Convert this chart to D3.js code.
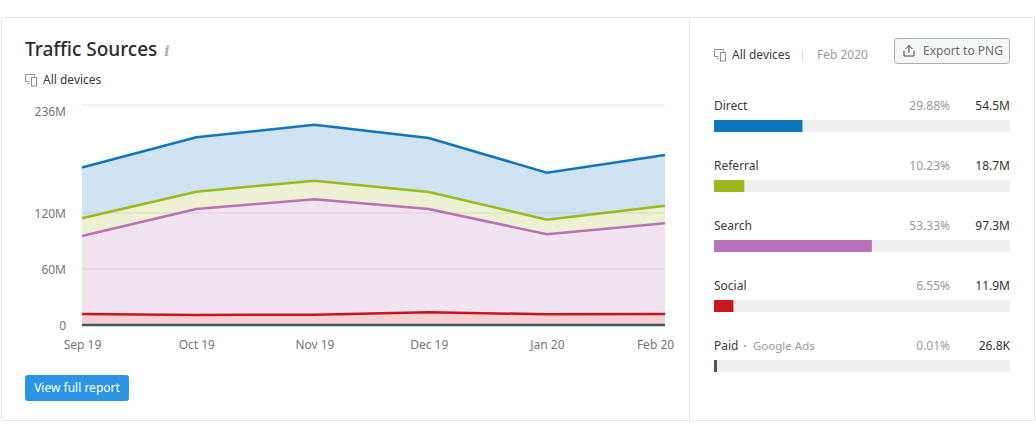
<!DOCTYPE html>
<html>
<head>
<meta charset="utf-8">
<script src="https://cdn.jsdelivr.net/npm/d3@7"></script>
<style>
	html, body { margin: 0; padding: 0; background: #fff; }
	svg { display: block; }
	text { font-family: "Noto Sans", sans-serif; font-size: 12px; }
	.axis path, .axis line { display: none; }
	.axis text { fill: #757575; font-size: 12px; }
</style>
</head>
<body>
<div id="chart"></div>
<script>
'use strict';

/**
 * Data, in millions
 */
var months = ['2019-09-01', '2019-10-01', '2019-11-01', '2019-12-01', '2020-01-01', '2020-02-01'];
var monthLabels = ['Sep 19', 'Oct 19', 'Nov 19', 'Dec 19', 'Jan 20', 'Feb 20'];
var yTicks = [0, 60, 120, 236];
var yTickLabels = ['0', '60M', '120M', '236M'];

var paid = [0.03, 0.03, 0.03, 0.03, 0.03, 0.03];
var social = [11.8, 10.7, 11, 13.6, 11.5, 11.9];
var search = [83.7, 113.8, 123.9, 110.9, 85.8, 97.3];
var referral = [19, 18.5, 19.9, 18.2, 15.7, 18.7];
var direct = [54.5, 58.3, 60, 57.9, 50.4, 54.5];

var sourceNames = ['Direct', 'Referral', 'Search', 'Social', 'Paid'];
var sourceColors = ['#0e75bf', '#9cb81c', '#b872b5', '#c8161e', '#45575e'];
var sourceShares = [29.88, 10.23, 53.33, 6.55, 0.01];
var sourceShareLabels = ['29.88%', '10.23%', '53.33%', '6.55%', '0.01%'];
var sourceValueLabels = ['54.5M', '18.7M', '97.3M', '11.9M', '26.8K'];

var seriesByName = { Direct: direct, Referral: referral, Search: search, Social: social, Paid: paid };

var svg = d3.select('#chart')
	.append('svg')
		.attr('width', 1036)
		.attr('height', 442);

// Card and divider
svg.append('rect')
	.attr('x', 1.5).attr('y', 17.5)
	.attr('width', 1033).attr('height', 403)
	.attr('rx', 2)
	.attr('fill', '#fff')
	.attr('stroke', '#e0e5e8');

svg.append('line')
	.attr('x1', 689.5).attr('x2', 689.5)
	.attr('y1', 18).attr('y2', 420)
	.attr('stroke', '#e0e5e8');

function deviceIcon(x, y) {
	var g = svg.append('g')
		.attr('transform', 'translate(' + x + ',' + y + ')')
		.attr('fill', 'none')
		.attr('stroke', '#8a8f92');
	g.append('path').attr('d', 'M4.5 7.5H0.5V0.5H9.5V2.5M2.5 9.5H4.5');
	g.append('rect').attr('x', 6.5).attr('y', 3.5).attr('width', 5).attr('height', 8.5);
}

/**
 * Header
 */
svg.append('text')
	.attr('x', 25).attr('y', 56)
	.attr('fill', '#2a2a2a')
	.style('font-size', '19px')
	.style('font-weight', 500)
	.text('Traffic Sources');

svg.append('text')
	.attr('x', 164).attr('y', 56)
	.attr('fill', '#a9b6bd')
	.style('font-family', '"DejaVu Serif", serif')
	.style('font-size', '15px')
	.style('font-style', 'italic')
	.style('font-weight', 700)
	.text('i');

deviceIcon(25, 74);

svg.append('text')
	.attr('x', 43).attr('y', 84)
	.attr('fill', '#3a3a3a')
	.text('All devices');

/**
 * Stacked area chart
 */
var dates = months.map(function(d) { return new Date(d + 'T00:00:00'); });

var x = d3.scaleTime()
	.domain(d3.extent(dates))
	.range([82, 665]);

var y = d3.scaleLinear()
	.domain([0, 236])
	.range([325, 105]);

svg.append('g')
	.selectAll('line')
	.data(yTicks.slice(1))
	.enter()
	.append('line')
		.attr('x1', 82).attr('x2', 665)
		.attr('y1', function(d) { return Math.round(y(d)); })
		.attr('y2', function(d) { return Math.round(y(d)); })
		.attr('stroke', '#eeeeee')
		.attr('stroke-width', 1.5);

var stackOrder = ['Paid', 'Social', 'Search', 'Referral', 'Direct'];

var rows = dates.map(function(d, i) {
	var row = { date: d };
	stackOrder.forEach(function(name) { row[name] = seriesByName[name][i]; });
	return row;
});

var layers = d3.stack().keys(stackOrder)(rows);

var area = d3.area()
	.x(function(d) { return x(d.data.date); })
	.y0(function(d) { return y(d[0]); })
	.y1(function(d) { return y(d[1]); });

var line = d3.line()
	.x(function(d) { return x(d.data.date); })
	.y(function(d) { return y(d[1]); });

function colorOf(name) {
	return sourceColors[sourceNames.indexOf(name)];
}

svg.append('g')
	.selectAll('path')
	.data(layers)
	.enter()
	.append('path')
		.attr('d', area)
		.attr('fill', function(d) { return colorOf(d.key); })
		.attr('fill-opacity', 0.2);

svg.append('g')
	.selectAll('path')
	.data(layers)
	.enter()
	.append('path')
		.attr('d', line)
		.attr('fill', 'none')
		.attr('stroke', function(d) { return colorOf(d.key); })
		.attr('stroke-width', 2.5);

var xAxis = svg.append('g')
	.attr('class', 'axis')
	.attr('transform', 'translate(0,325)')
	.call(d3.axisBottom(x)
		.tickValues(dates)
		.tickSize(0)
		.tickPadding(15)
		.tickFormat(function(d, i) { return monthLabels[i]; }));

// The last label is pulled back inside the card
xAxis.selectAll('.tick:last-of-type text').attr('dx', '-10');

svg.append('g')
	.attr('class', 'axis')
	.attr('transform', 'translate(66,0)')
	.call(d3.axisLeft(y)
		.tickValues(yTicks)
		.tickSize(0)
		.tickPadding(0)
		.tickFormat(function(d, i) { return yTickLabels[i]; }))
	.selectAll('text')
		.attr('dy', function(d) { return d === 236 ? '0.85em' : d === 0 ? '0.36em' : '0.4em'; });

/**
 * View full report button
 */
svg.append('rect')
	.attr('x', 25).attr('y', 375)
	.attr('width', 104).attr('height', 26)
	.attr('rx', 3)
	.attr('fill', '#2b95e3');

svg.append('text')
	.attr('x', 77).attr('y', 392)
	.attr('text-anchor', 'middle')
	.attr('fill', '#fff')
	.text('View full report');

/**
 * Right panel header
 */
deviceIcon(714, 49);

svg.append('text')
	.attr('x', 732).attr('y', 59)
	.attr('fill', '#3a3a3a')
	.text('All devices');

svg.append('line')
	.attr('x1', 802.5).attr('x2', 802.5)
	.attr('y1', 50).attr('y2', 61)
	.attr('stroke', '#f0d5d2');

svg.append('text')
	.attr('x', 817).attr('y', 59)
	.attr('fill', '#9a9a9a')
	.text('Feb 2020');

svg.append('rect')
	.attr('x', 894.5).attr('y', 38.5)
	.attr('width', 115).attr('height', 25)
	.attr('rx', 3)
	.attr('fill', '#f5f7f7')
	.attr('stroke', '#a9b0b3');

svg.append('path')
	.attr('d', 'M909 53V45.5M905.5 49L909 45.5L912.5 49M904 50.5V56H914V50.5')
	.attr('fill', 'none')
	.attr('stroke', '#444');

svg.append('text')
	.attr('x', 923).attr('y', 55)
	.attr('fill', '#6a6a6a')
	.text('Export to PNG');

/**
 * Source breakdown bars
 */
var share = d3.scaleLinear()
	.domain([0, 100])
	.range([0, 296]);

var rowY = d3.scalePoint()
	.domain(sourceNames)
	.range([120, 360]);

var bars = svg.append('g')
	.selectAll('g')
	.data(sourceNames)
	.enter()
	.append('g')
		.attr('transform', function(d) { return 'translate(0,' + rowY(d) + ')'; });

bars.append('rect')
	.attr('x', 714)
	.attr('width', share(100))
	.attr('height', 12)
	.attr('fill', '#efefef');

bars.append('rect')
	.attr('x', 714)
	.attr('width', function(d, i) { return Math.max(3, share(sourceShares[i])); })
	.attr('height', 12)
	.attr('fill', function(d, i) { return sourceColors[i]; });

bars.append('text')
	.attr('x', 714).attr('y', -10)
	.attr('fill', '#3a3a3a')
	.text(function(d) { return d; });

bars.append('text')
	.attr('x', 950).attr('y', -10)
	.attr('text-anchor', 'end')
	.attr('fill', '#9a9a9a')
	.text(function(d, i) { return sourceShareLabels[i]; });

bars.append('text')
	.attr('x', 1010).attr('y', -10)
	.attr('text-anchor', 'end')
	.attr('fill', '#333')
	.text(function(d, i) { return sourceValueLabels[i]; });

var paidRow = rowY('Paid');

svg.append('circle')
	.attr('cx', 745).attr('cy', paidRow - 14)
	.attr('r', 1.2)
	.attr('fill', '#a9b0b3');

svg.append('text')
	.attr('x', 753).attr('y', paidRow - 10)
	.attr('fill', '#9a9a9a')
	.style('font-size', '11.5px')
	.text('Google Ads');
</script>
</body>
</html>
